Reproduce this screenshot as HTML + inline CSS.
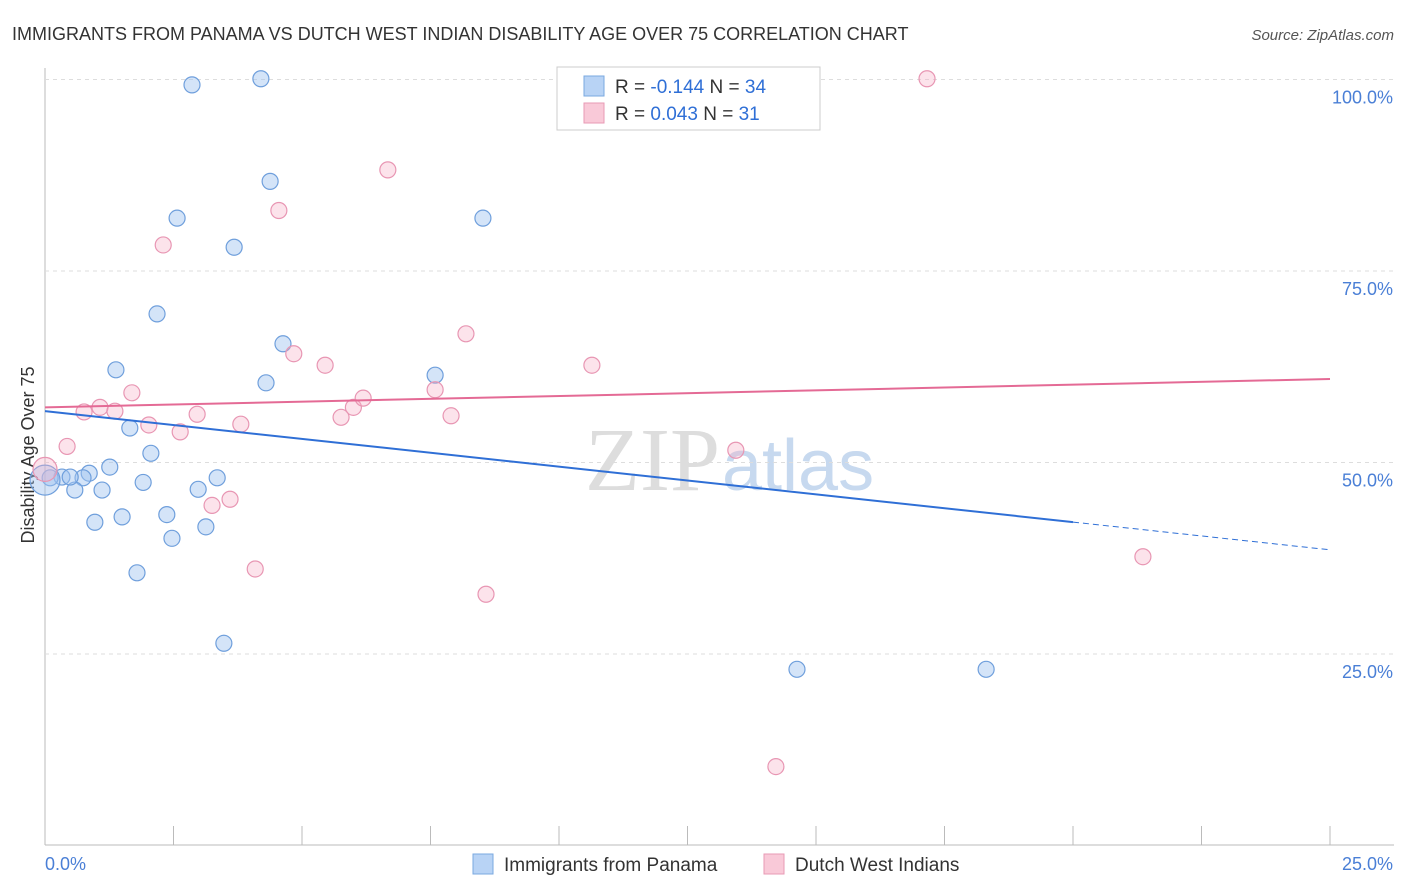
<!DOCTYPE html>
<html><head><meta charset="utf-8"><style>
body{margin:0;background:#fff;font-family:"Liberation Sans",sans-serif}
svg{display:block}
</style></head><body>
<svg width="1406" height="892" id="c">
<text x="12" y="40" font-size="18" fill="#333">IMMIGRANTS FROM PANAMA VS DUTCH WEST INDIAN DISABILITY AGE OVER 75 CORRELATION CHART</text>
<text x="1394" y="40" font-size="15" fill="#555" font-style="italic" text-anchor="end">Source: ZipAtlas.com</text>
<text x="720" y="490" font-size="90" fill="#ddd" font-family="Liberation Serif,serif" text-anchor="end">ZIP</text>
<text x="722" y="490" font-size="72" fill="#c7d9ef" text-anchor="start">atlas</text>
<text x="34" y="455" font-size="18" fill="#333" transform="rotate(-90 34 455)" text-anchor="middle">Disability Age Over 75</text>
<g id="grid"></g><g id="marks"></g>
<g>
<rect x="557" y="67" width="263" height="63" fill="#fff" stroke="#ccc"/>
<rect x="584" y="76" width="20" height="20" fill="#b8d3f5" stroke="#7aa8e0"/>
<rect x="584" y="103" width="20" height="20" fill="#f9c9d8" stroke="#e89ab5"/>
<text x="615" y="93" font-size="19" fill="#333">R = <tspan fill="#2f6fd6">-0.144</tspan>   N = <tspan fill="#2f6fd6">34</tspan></text>
<text x="615" y="120" font-size="19" fill="#333">R =  <tspan fill="#2f6fd6">0.043</tspan>   N =  <tspan fill="#2f6fd6">31</tspan></text>
</g>
<g>
<rect x="473" y="854" width="20" height="20" fill="#b8d3f5" stroke="#7aa8e0"/>
<text x="504" y="871" font-size="19" fill="#333">Immigrants from Panama</text>
<rect x="764" y="854" width="20" height="20" fill="#f9c9d8" stroke="#e89ab5"/>
<text x="795" y="871" font-size="19" fill="#333">Dutch West Indians</text>
</g>
</svg>
<script>
const xTicks=[0,2.5,5,7.5,10,12.5,15,17.5,20,22.5,25];
const yTicks=[25,50,75,100];
const yTickLabels=["25.0%","50.0%","75.0%","100.0%"];
const blueX=[2.86,4.20,4.38,2.57,3.68,8.52,2.18,4.63,1.38,4.30,7.59,1.65,2.06,1.26,0.86,0.33,0.74,0.10,0.58,1.11,1.91,2.98,3.35,0.97,1.50,2.37,2.47,3.13,1.79,3.48,14.63,18.31,0.49,0];
const blueY=[99.3,100.1,86.7,81.9,78.1,81.9,69.4,65.5,62.1,60.4,61.4,54.5,51.2,49.4,48.6,48.1,48.0,48.0,46.4,46.4,47.4,46.5,48.0,42.2,42.9,43.2,40.1,41.6,35.6,26.4,23.0,23.0,48.1,47.7];
const pinkX=[12.74,17.16,6.67,4.55,2.30,8.19,4.84,5.45,10.64,1.69,1.07,0.76,1.36,2.96,2.02,2.63,3.81,5.76,6.00,6.19,7.59,7.90,0.43,13.44,3.60,3.25,4.09,8.58,21.36,14.22,0];
const pinkY=[100.1,100.1,88.2,82.9,78.4,66.8,64.2,62.7,62.7,59.1,57.2,56.6,56.7,56.3,54.9,54.0,55.0,55.9,57.2,58.4,59.5,56.1,52.1,51.6,45.2,44.4,36.1,32.8,37.7,10.3,49.1];
const blueTrend=[56.7,38.6];
const pinkTrend=[57.2,60.9];
const sx=v=>45+v/25*1285, sy=v=>845.5-v*7.66;
const NS="http://www.w3.org/2000/svg";
function mk(p,t,a){const e=document.createElementNS(NS,t);for(const k in a)e.setAttribute(k,a[k]);p.appendChild(e);return e;}
const g=document.getElementById('grid'),m=document.getElementById('marks');
let ax=mk(g,'line',{x1:45,y1:68,x2:45,y2:845,stroke:'#bbb'});

let bx=mk(g,'line',{x1:45,y1:845,x2:1394,y2:845,stroke:'#bbb'});

xTicks.forEach(v=>{const t=mk(g,'line',{x1:sx(v),y1:826,x2:sx(v),y2:845,stroke:'#bbb'});
});
yTicks.forEach((v,i)=>{const l=mk(g,'line',{x1:45,y1:sy(v),x2:1394,y2:sy(v),stroke:'#ddd','stroke-dasharray':'4,4'});

const t=mk(g,'text',{x:1393,y:sy(v)+24,'font-size':18,fill:'#4a7fd6','text-anchor':'end'});t.textContent=yTickLabels[i];
});
const x0=mk(g,'text',{x:45,y:870,'font-size':18,fill:'#4a7fd6'});x0.textContent="0.0%";

const x1=mk(g,'text',{x:1393,y:870,'font-size':18,fill:'#4a7fd6','text-anchor':'end'});x1.textContent="25.0%";

blueX.forEach((v,i)=>{const c=mk(m,'circle',{cx:sx(v),cy:sy(blueY[i]),r:v===0?15:8,fill:'rgba(160,196,240,0.45)',stroke:'#6f9fdc','stroke-width':1.2});
});
pinkX.forEach((v,i)=>{const c=mk(m,'circle',{cx:sx(v),cy:sy(pinkY[i]),r:v===0?12:8,fill:'rgba(245,175,198,0.35)',stroke:'#e896b3','stroke-width':1.2});
});
const bAt=v=>blueTrend[0]+(blueTrend[1]-blueTrend[0])*v/25;
let l1=mk(m,'line',{x1:sx(0),y1:sy(bAt(0)),x2:sx(20),y2:sy(bAt(20)),stroke:'#2f6fd6','stroke-width':2});

let l2=mk(m,'line',{x1:sx(20),y1:sy(bAt(20)),x2:sx(25),y2:sy(bAt(25)),stroke:'#2f6fd6','stroke-width':1,'stroke-dasharray':'6,4'});

let l3=mk(m,'line',{x1:sx(0),y1:sy(pinkTrend[0]),x2:sx(25),y2:sy(pinkTrend[1]),stroke:'#e46a95','stroke-width':2});

</script>
</body></html>
